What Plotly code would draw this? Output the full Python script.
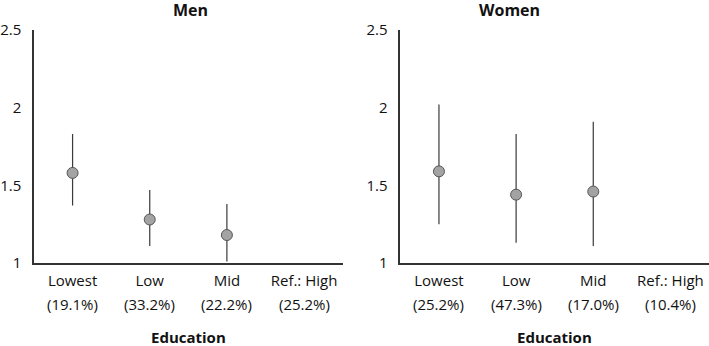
import plotly.graph_objects as go

categories = ["Lowest", "Low", "Mid", "Ref.: High"]
men_share = ["(19.1%)", "(33.2%)", "(22.2%)", "(25.2%)"]
women_share = ["(25.2%)", "(47.3%)", "(17.0%)", "(10.4%)"]

men_est = [1.58, 1.28, 1.18, None]
men_lo = [1.37, 1.11, 1.01, None]
men_hi = [1.83, 1.47, 1.38, None]

women_est = [1.59, 1.44, 1.46, None]
women_lo = [1.25, 1.13, 1.11, None]
women_hi = [2.02, 1.83, 1.91, None]

y_ticks = [1, 1.5, 2, 2.5]
y_ticktext = ["1", "1.5", "2", "2.5"]

FONT = "Open Sans"
W, H = 709, 346
ML, MR, MT, MB = 31, 0, 30, 83
PW = W - ML - MR
PH = H - MT - MB

xpos = list(range(len(categories)))

fig = go.Figure()


def add_panel(est, lo, hi, xa, ya):
    xs, ys = [], []
    for i, (e, l, h) in enumerate(zip(est, lo, hi)):
        if e is None:
            continue
        xs += [xpos[i], xpos[i], None]
        ys += [l, h, None]
    fig.add_trace(go.Scatter(x=xs, y=ys, mode="lines",
                             line=dict(color="#3a3a3a", width=1.2),
                             xaxis=xa, yaxis=ya, showlegend=False, hoverinfo="skip"))
    fig.add_trace(go.Scatter(x=xpos, y=est, mode="markers",
                             marker=dict(size=11, color="#a3a3a3",
                                         line=dict(color="#555555", width=1)),
                             xaxis=xa, yaxis=ya, showlegend=False))


add_panel(men_est, men_lo, men_hi, "x", "y")
add_panel(women_est, women_lo, women_hi, "x2", "y2")

d1 = [0, 310 / PW]
d2 = [(399 - ML) / PW, 1]

TF = dict(family=FONT, size=15, color="#111111")
xcommon = dict(range=[-0.5, 3.5], tickvals=xpos, ticktext=categories, showgrid=False,
               zeroline=False, showline=True, linecolor="#333333", linewidth=1.5,
               ticks="", tickfont=TF, ticklabelstandoff=3, fixedrange=True)
ycommon = dict(range=[1, 2.5], tickvals=y_ticks, ticktext=y_ticktext, showgrid=False,
               zeroline=False, showline=True, linecolor="#333333", linewidth=1.5,
               ticks="", tickfont=TF, ticklabelstandoff=8, fixedrange=True)

fig.update_layout(
    width=W, height=H,
    margin=dict(l=ML, r=MR, t=MT, b=MB),
    plot_bgcolor="white", paper_bgcolor="white",
    xaxis=dict(domain=d1, anchor="y", **xcommon),
    yaxis=dict(domain=[0, 1], anchor="x", **ycommon),
    xaxis2=dict(domain=d2, anchor="y2", **xcommon),
    yaxis2=dict(domain=[0, 1], anchor="x2", **ycommon),
)

ann = []
for xa, shares in (("x", men_share), ("x2", women_share)):
    for i, s in enumerate(shares):
        ann.append(dict(x=xpos[i], xref=xa, y=(263 - 304) / PH, yref="paper",
                        text=s, showarrow=False, yanchor="middle",
                        font=TF))
    ann.append(dict(x=1.5, xref=xa, y=(263 - 337) / PH, yref="paper",
                    text="<b>Education</b>", showarrow=False, yanchor="middle",
                    borderpad=0, font=dict(family=FONT, size=15, color="#111111")))

ann.append(dict(x=(170 - ML) / PW, xref="paper", y=(263 - 10) / PH, yref="paper",
                text="<b>Men</b>", showarrow=False, yanchor="middle", borderpad=0,
                font=dict(family=FONT, size=16, color="#111111")))
ann.append(dict(x=(540 - ML) / PW, xref="paper", y=(263 - 10) / PH, yref="paper",
                text="<b>Women</b>", showarrow=False, yanchor="middle", borderpad=0,
                font=dict(family=FONT, size=16, color="#111111")))
fig.update_layout(annotations=ann)

fig.write_html("out.html", config={"displayModeBar": False},
               post_script="document.body.style.margin='0';document.body.style.overflow='hidden';")
